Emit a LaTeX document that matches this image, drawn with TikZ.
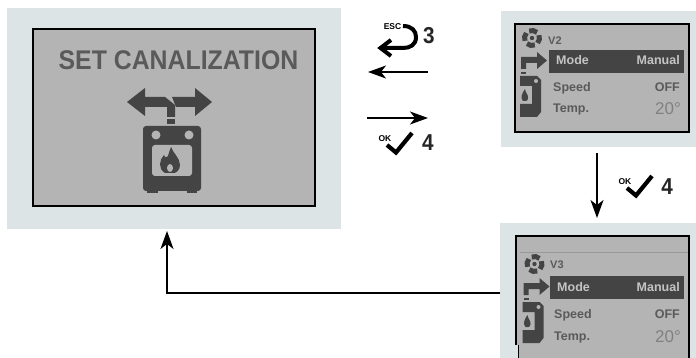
\documentclass[tikz,border=0pt]{standalone}
\usepackage{fontspec}
\setmainfont{Liberation Sans}
\usetikzlibrary{arrows.meta}
\definecolor{panelbg}{HTML}{DCE4E6}
\definecolor{lcd}{HTML}{B4B4B4}
\definecolor{ink}{HTML}{444444}
\definecolor{lcdtext}{HTML}{5A5A5A}
\definecolor{bartext}{HTML}{C4C4C4}
\tikzset{
  panel/.style={fill=panelbg,draw=none,inner sep=0pt,outer sep=0pt},
  lcdbox/.style={fill=lcd,draw=black,line width=1.6pt,inner sep=0pt,outer sep=0pt},
  flow/.style={draw=black,line width=1.2pt,-{Stealth[length=18pt,width=13pt,inset=5pt]}},
  menu/.style={font=\bfseries\fontsize{12.5}{13}\selectfont,text=lcdtext,inner sep=0pt,anchor=base west},
  menuval/.style={menu,anchor=base east},
  keynum/.style={font=\bfseries\fontsize{23}{24}\selectfont,text=black!85,inner sep=0pt,xscale=.9},
  keytag/.style={font=\bfseries\fontsize{8.5}{9}\selectfont,text=black,inner sep=0pt},
  oksign/.pic={
    \node[keytag] (-ok) at (0,0) {OK};
    \draw[black,line width=4.2pt,line join=miter,line cap=butt] (2,6) -- (11,13.5) -- (27,-6);
  },
  lcdicons/.pic={
    % fan
    \foreach \a in {10,100,190,280}
      \draw[ink,line width=5pt] (0,0) ++(\a-32:7.5) arc[start angle=\a-32,end angle=\a+32,radius=7.5];
    \fill[ink] (0,0) circle (2.2pt);
    % pipe arrow
    \fill[ink] (-11,19) -- (5,19) -- (5,14) -- (15,22.5) -- (5,31) -- (5,25) -- (-6,25) -- (-6,31) -- (-11,31) -- cycle;
    \fill[ink] (-11,34) rectangle (-6,36);
    % boiler fragment
    \fill[ink] (-12,38) -- (5,38) -- (9,42) -- (9,74) -- (5,79) -- (-12,79) -- (-12,66) -- (0,66) -- (0,48) -- (-12,48) -- cycle;
    \fill[lcd] (4,43) circle (2pt);
    \fill[ink] (-9,63) .. controls (-12,60) and (-10,55) .. (-7,51) .. controls (-7,54) and (-3,58) .. (-4,60) .. controls (-4,62) and (-5,63) .. (-6,63) -- cycle;
  }
}
\begin{document}
\begin{tikzpicture}[x=1pt,y=-1pt]
\useasboundingbox (0,0) rectangle (696,358);
\fill[white] (0,0) rectangle (696,358);

% panels
\node[panel,minimum width=334pt,minimum height=221pt] (bigbg) at (174,118.5) {};
\node[panel,minimum width=195pt,minimum height=136pt] (vtwobg) at (598.5,79) {};
\node[panel,minimum width=196pt,minimum height=135pt] (vthreebg) at (598,290.5) {};

% big screen
\node[lcdbox,minimum width=282pt,minimum height=177pt] (bigscreen) at (174,117.5) {};
\node[inner sep=0pt,text=lcdtext,font=\bfseries\fontsize{27}{28}\selectfont,xscale=.92] (title) at (178.5,60) {SET CANALIZATION};
% big icon
\fill[ink] (127,102) -- (145,88) -- (145,97) -- (165,97) -- (175,105) -- (175,117) -- (167,117) -- (167,107) -- (145,107) -- (145,116) -- cycle;
\fill[ink] (172,97) -- (195,97) -- (195,88) -- (212,102) -- (195,116) -- (195,107) -- (176,107) -- cycle;
\fill[ink] (167,119) rectangle (175,124);
\fill[ink,rounded corners=3pt] (143,126) rectangle (201,191);
\fill[ink] (147,188) rectangle (158,193);
\fill[ink] (187,188) rectangle (197,193);
\fill[lcd] (156,135) circle (4.5pt) (189,135) circle (4.5pt);
\fill[lcd,rounded corners=3pt] (152,145) rectangle (192,176);
\fill[ink] (165,173) .. controls (158,169) and (159,160) .. (164,155)
  .. controls (165,158) and (167,158) .. (168,156) .. controls (169,152) and (170,150) .. (171,147)
  .. controls (173,153) and (180,158) .. (180,165) .. controls (180,170) and (176,173) .. (174,173) -- cycle;
\fill[lcd] (170,168) ellipse (3pt and 4pt);

% V2 screen
\node[lcdbox,minimum width=174pt,minimum height=108pt] (vtwoscreen) at (602,78) {};
\pic at (532,38) {lcdicons};
\node[menu,font=\bfseries\fontsize{11}{12}\selectfont] (vtwolabel) at (548,45) {V2};
\node[fill=ink,minimum width=135pt,minimum height=23pt,inner sep=0pt] (vtwobar) at (616.5,61.5) {};
\node[menu,text=bartext] (vtwomode) at (556,65) {Mode};
\node[menuval,text=bartext] (vtwomanual) at (680,65) {Manual};
\node[menu] (vtwospeed) at (553,92) {Speed};
\node[menuval] (vtwooff) at (680,92) {OFF};
\node[menu] (vtwotemp) at (553,113) {Temp.};
\node[menuval,font=\fontsize{17}{18}\selectfont,text=black!50] (vtwoval) at (681,115) {20°};

% V3 screen
\fill[lcd] (518,236) rectangle (689,358);
\fill[lcd] (516,236) rectangle (518,345);
\draw[black,line width=1.6pt] (516,345) -- (516,236) -- (689,236) -- (689,358);
\draw[black,line width=1pt] (518,345) -- (518,358);
\draw[black!15!lcd,line width=.6pt] (520,252) -- (688,252);
\node[inner sep=0pt,minimum width=173pt,minimum height=122pt] (vthreescreen) at (602.5,297) {};
\pic at (534.5,264) {lcdicons};
\node[menu,font=\bfseries\fontsize{11}{12}\selectfont] (vthreelabel) at (550,269) {V3};
\node[fill=ink,minimum width=134pt,minimum height=23pt,inner sep=0pt] (vthreebar) at (617,287.5) {};
\node[menu,text=bartext] (vthreemode) at (557,291) {Mode};
\node[menuval,text=bartext] (vthreemanual) at (680,291) {Manual};
\node[menu] (vthreespeed) at (554,318) {Speed};
\node[menuval] (vthreeoff) at (680,318) {OFF};
\node[menu] (vthreetemp) at (554,340) {Temp.};
\node[menuval,font=\fontsize{17}{18}\selectfont,text=black!50] (vthreeval) at (681,342) {20°};

% connectors
\coordinate (backstart) at (428,72);
\coordinate (backend) at (368,72);
\coordinate (fwdstart) at (367,118);
\coordinate (fwdend) at (428,118);
\coordinate (downstart) at (597,153);
\coordinate (downend) at (597,218);
\coordinate (loopstart) at (500,293);
\coordinate (loopend) at (167,231);
\draw[flow] (backstart) -- (backend);
\draw[flow] (fwdstart) -- (fwdend);
\draw[flow] (downstart) -- (downend);
\draw[flow] (loopstart) -| (loopend);

% key hints
\node[keytag] (esctag) at (392.5,27) {ESC};
\draw[black,line width=4pt,line cap=butt] (403,26) .. controls (412,26) and (416,31) .. (416,37) .. controls (416,45) and (410,48) .. (403,48) -- (383,48);
\draw[black,line width=4pt,line join=miter] (391,40) -- (380.5,48) -- (391,56);
\node[keynum] (escnum) at (429,36) {3};
\pic at (385,139) {oksign};
\node[keynum] (oknumone) at (428,143) {4};
\pic at (625,182) {oksign};
\node[keynum] (oknumtwo) at (667,187) {4};
\end{tikzpicture}
\end{document}
